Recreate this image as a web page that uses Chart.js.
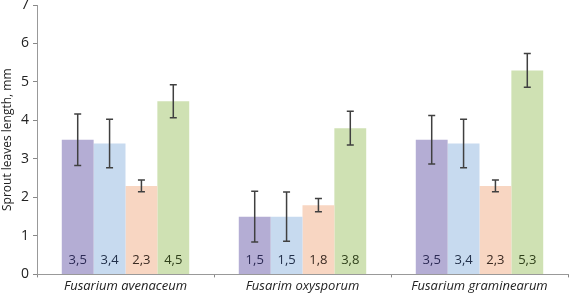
<!DOCTYPE html>
<html lang="en">
<head>
  <meta charset="UTF-8" />
  <title>Sprout leaves length</title>
  <script src="https://cdn.jsdelivr.net/npm/chart.js"></script>
  <style>
    html, body { margin: 0; padding: 0; background: #fff; }
    #wrap { width: 570px; height: 298px; }
  </style>
</head>
<body>
  <div id="wrap"><canvas id="chart" width="570" height="298"></canvas></div>
  <script>
    // categories and series
    const categories = ['Fusarium avenaceum', 'Fusarim oxysporum', 'Fusarium graminearum'];
    const seriesA = [3.5, 1.5, 3.5];
    const seriesB = [3.4, 1.5, 3.4];
    const seriesC = [2.3, 1.8, 2.3];
    const seriesD = [4.5, 3.8, 5.3];
    // error bar half-widths
    const errA = [0.67, 0.66, 0.63];
    const errB = [0.63, 0.64, 0.63];
    const errC = [0.15, 0.17, 0.15];
    const errD = [0.43, 0.44, 0.44];
    const yTicks = [0, 1, 2, 3, 4, 5, 6, 7];

    const fills = ['#b4add4', '#c7daef', '#f8d6c2', '#cfe1b3'];
    const labelColors = ['#2c2a55', '#22304a', '#3a2a22', '#2f3f1a'];

    const errorBars = {
      id: 'errorBars',
      afterDatasetsDraw(chart) {
        const ctx = chart.ctx;
        const y = chart.scales.y;
        ctx.save();
        ctx.strokeStyle = '#404040';
        ctx.lineWidth = 1.5;
        chart.data.datasets.forEach((ds, i) => {
          const meta = chart.getDatasetMeta(i);
          meta.data.forEach((bar, j) => {
            const v = ds.data[j], e = ds.err[j];
            const top = y.getPixelForValue(v + e);
            const bot = y.getPixelForValue(v - e);
            ctx.beginPath();
            ctx.moveTo(bar.x, top); ctx.lineTo(bar.x, bot);
            ctx.moveTo(bar.x - 3.5, top); ctx.lineTo(bar.x + 3.5, top);
            ctx.moveTo(bar.x - 3.5, bot); ctx.lineTo(bar.x + 3.5, bot);
            ctx.stroke();
          });
        });
        ctx.restore();
      }
    };

    const valueLabels = {
      id: 'valueLabels',
      afterDatasetsDraw(chart) {
        const ctx = chart.ctx;
        const y = chart.scales.y;
        ctx.save();
        ctx.font = '13px "Open Sans", sans-serif';
        ctx.textAlign = 'center';
        ctx.textBaseline = 'middle';
        chart.data.datasets.forEach((ds, i) => {
          const meta = chart.getDatasetMeta(i);
          ctx.fillStyle = labelColors[i];
          meta.data.forEach((bar, j) => {
            ctx.fillText(String(ds.data[j]).replace('.', ','), bar.x, y.getPixelForValue(0) - 14);
          });
        });
        ctx.restore();
      }
    };

    const mk = (data, err, i) => ({
      data: data, err: err,
      backgroundColor: fills[i],
      borderWidth: 0,
      categoryPercentage: 0.72,
      barPercentage: 1.0
    });

    new Chart(document.getElementById('chart'), {
      type: 'bar',
      data: {
        labels: categories,
        datasets: [mk(seriesA, errA, 0), mk(seriesB, errB, 1), mk(seriesC, errC, 2), mk(seriesD, errD, 3)]
      },
      options: {
        responsive: false,
        animation: false,
        layout: { padding: { top: 5, right: 2, bottom: 3, left: 0 } },
        plugins: { legend: { display: false }, tooltip: { enabled: false } },
        scales: {
          x: {
            grid: { display: true, drawOnChartArea: false, offset: true, color: '#888', tickLength: 3 },
            border: { color: '#999', width: 1 },
            ticks: {
              color: '#222',
              padding: 1,
              maxRotation: 0,
              font: { family: '"Open Sans", sans-serif', size: 13, style: 'italic' }
            }
          },
          y: {
            min: 0, max: 7,
            afterFit(s) { s.width = 37; s.paddingTop = 0; s.paddingBottom = 0; },
            afterBuildTicks(s) { s.ticks = yTicks.map(v => ({ value: v })); },
            grid: { display: true, drawOnChartArea: false, color: '#888', tickLength: 4 },
            border: { color: '#999', width: 1 },
            title: {
              display: true,
              text: 'Sprout leaves length, mm',
              color: '#222',
              padding: { top: 0, bottom: 2 },
              font: { family: '"Open Sans", sans-serif', size: 12 }
            },
            ticks: {
              color: '#222',
              padding: 4,
              font: { family: '"Open Sans", sans-serif', size: 14 }
            }
          }
        }
      },
      plugins: [errorBars, valueLabels]
    });
  </script>
</body>
</html>
